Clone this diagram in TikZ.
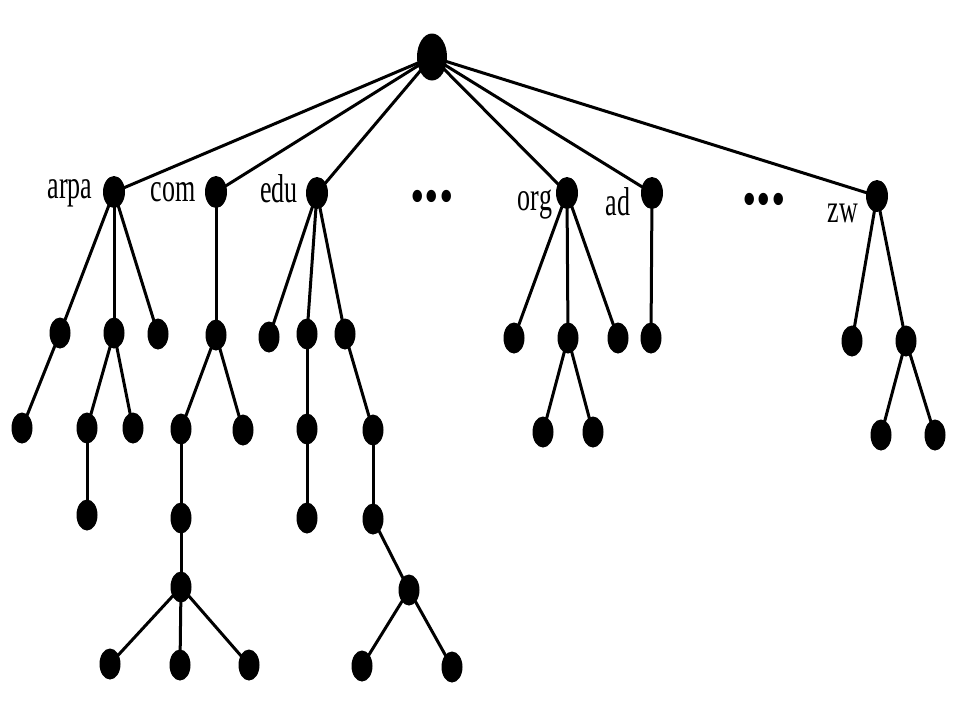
\documentclass[tikz,border=0pt]{standalone}
\usepackage{fontspec}
\setmainfont{Liberation Serif}
\usetikzlibrary{shapes.geometric,backgrounds}
\newcommand\mylbl[1]{\scalebox{1}[1.55]{\fontsize{26}{26}\selectfont #1}}
\newcommand\mydots{\scalebox{1}[1.3]{\fontsize{58}{58}\selectfont\bfseries ...}}
\tikzset{
  dnsnode/.style={ellipse, fill=black, draw=none, minimum width=21pt, minimum height=31pt, inner sep=0pt},
  topnode/.style={dnsnode, minimum width=30pt, minimum height=47pt},
  lvlnode/.style={dnsnode, minimum width=22pt, minimum height=32pt},
  edge/.style={line width=3pt, black},
  tld/.style={anchor=base, inner sep=0pt}
}
\begin{document}
\begin{tikzpicture}[x=1pt,y=-1pt]
\useasboundingbox (0,0) rectangle (960,720);
% root and top-level domains
\node[topnode] (root) at (432,57) {};
\node[lvlnode] (a) at (114,192) {};
\node[lvlnode] (c) at (216,192) {};
\node[lvlnode] (e) at (317,193) {};
\node[lvlnode] (o) at (567,193) {};
\node[lvlnode] (d) at (652,193) {};
\node[lvlnode] (z) at (877,196) {};
% labels
\node[tld] (la) at (70,198) {\mylbl{arpa}};
\node[tld] (lc) at (173,201) {\mylbl{com}};
\node[tld] (le) at (279,202) {\mylbl{edu}};
\node[tld] (lo) at (535,210) {\mylbl{org}};
\node[tld] (ld) at (618,215) {\mylbl{ad}};
\node[tld] (lz) at (843,222) {\mylbl{zw}};
\node[tld] (dots1) at (432,201) {\mydots};
\node[tld] (dots2) at (764,204) {\mydots};
% arpa subtree
\node[dnsnode] (a1) at (60,333) {};
\node[dnsnode] (a2) at (114,333) {};
\node[dnsnode] (a3) at (158,334) {};
\node[dnsnode] (a11) at (22,428) {};
\node[dnsnode] (a21) at (87,428) {};
\node[dnsnode] (a22) at (133,428) {};
\node[dnsnode] (a211) at (87,515) {};
% com subtree
\node[dnsnode] (c1) at (216,335) {};
\node[dnsnode] (c11) at (181,429) {};
\node[dnsnode] (c12) at (243,430) {};
\node[dnsnode] (c111) at (181,518) {};
\node[dnsnode] (c1111) at (181,587) {};
\node[dnsnode] (c11111) at (110,664) {};
\node[dnsnode] (c11112) at (180,665) {};
\node[dnsnode] (c11113) at (249,665) {};
% edu subtree
\node[dnsnode] (e1) at (269,337) {};
\node[dnsnode] (e2) at (307,334) {};
\node[dnsnode] (e3) at (345,334) {};
\node[dnsnode] (e21) at (307,429) {};
\node[dnsnode] (e211) at (307,518) {};
\node[dnsnode] (e31) at (373,430) {};
\node[dnsnode] (e311) at (373,519) {};
\node[dnsnode] (e3111) at (409,590) {};
\node[dnsnode] (e31111) at (362,666) {};
\node[dnsnode] (e31112) at (452,667) {};
% org subtree
\node[dnsnode] (o1) at (514,338) {};
\node[dnsnode] (o2) at (568,338) {};
\node[dnsnode] (o3) at (618,338) {};
\node[dnsnode] (o21) at (543,432) {};
\node[dnsnode] (o22) at (593,432) {};
% ad subtree
\node[dnsnode] (d1) at (651,338) {};
% zw subtree
\node[dnsnode] (z1) at (852,341) {};
\node[dnsnode] (z2) at (906,341) {};
\node[dnsnode] (z21) at (881,435) {};
\node[dnsnode] (z22) at (935,435) {};
\begin{scope}[on background layer]
\fill[white] (0,0) rectangle (960,720);
\foreach \p/\q in {root/a,root/c,root/e,root/o,root/d,root/z,
  a/a1,a/a2,a/a3,a1/a11,a2/a21,a2/a22,a21/a211,
  c/c1,c1/c11,c1/c12,c11/c111,c111/c1111,c1111/c11111,c1111/c11112,c1111/c11113,
  e/e1,e/e2,e/e3,e2/e21,e21/e211,e3/e31,e31/e311,e311/e3111,e3111/e31111,e3111/e31112,
  o/o1,o/o2,o/o3,o2/o21,o2/o22,
  d/d1,
  z/z1,z/z2,z2/z21,z2/z22}
  \draw[edge] (\p.center) -- (\q.center);
\end{scope}
\end{tikzpicture}
\end{document}
